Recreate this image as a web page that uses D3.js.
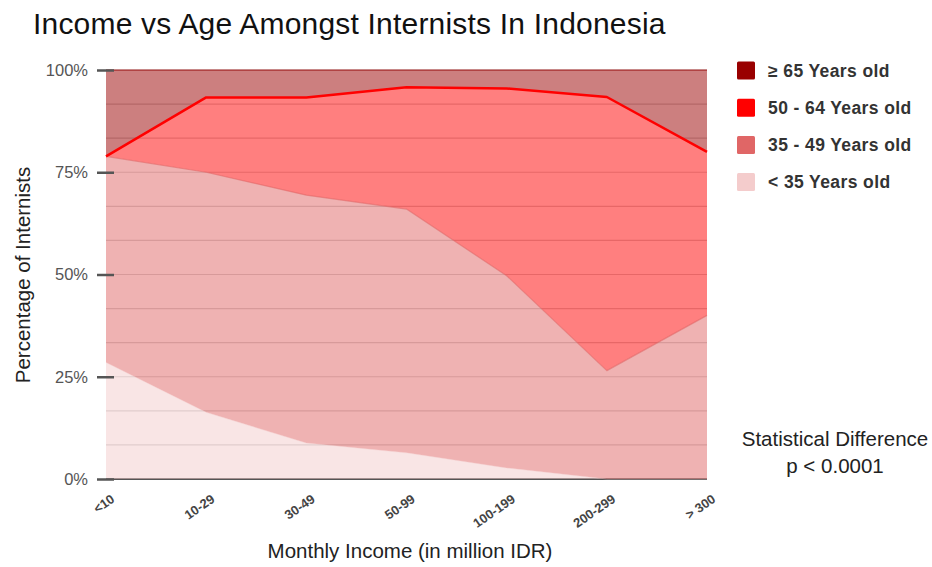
<!DOCTYPE html>
<html>
<head>
<meta charset="utf-8">
<script src="https://cdn.jsdelivr.net/npm/d3@7"></script>
<style>
  html, body { margin: 0; padding: 0; background: #fff; }
  svg { display: block; font-family: "Liberation Sans", Arial, sans-serif; }
</style>
</head>
<body>
<svg id="chart" width="932" height="567"></svg>
<script>
// Income brackets (million IDR per month)
const categories = ["<10", "10-29", "30-49", "50-99", "100-199", "200-299", "> 300"];

// Share of internists (%) in each age group per income bracket
const under35 = [28.5, 16.3, 8.8, 6.4, 2.7, 0.0, 0.0];
const age35to49 = [50.4, 58.7, 60.6, 59.6, 47.0, 26.5, 40.0];
const age50to64 = [0.0, 18.3, 23.9, 29.8, 45.8, 66.9, 40.0];
const age65plus = [21.1, 6.7, 6.7, 4.2, 4.5, 6.6, 20.0];

const seriesNames = ["< 35 Years old", "35 - 49 Years old", "50 - 64 Years old", "\u2265 65 Years old"];
const seriesColors = ["#f4cccc", "#e06666", "#ff0000", "#990000"];
const yTicks = [0, 25, 50, 75, 100];

const rows = categories.map((c, i) => ({
  cat: c,
  [seriesNames[0]]: under35[i],
  [seriesNames[1]]: age35to49[i],
  [seriesNames[2]]: age50to64[i],
  [seriesNames[3]]: age65plus[i]
}));

const svg = d3.select("#chart");
const plotLeft = 106, plotRight = 707, plotTop = 70, plotBottom = 479;

const x = d3.scalePoint().domain(categories).range([plotLeft, plotRight]);
const y = d3.scaleLinear().domain([0, 100]).range([plotBottom, plotTop]);
const color = d3.scaleOrdinal().domain(seriesNames).range(seriesColors);

const stacked = d3.stack().keys(seriesNames)(rows);

// Title
svg.append("text")
  .attr("x", 33).attr("y", 34)
  .attr("font-size", 30)
  .attr("letter-spacing", 0.2)
  .attr("fill", "#111")
  .text("Income vs Age Amongst Internists In Indonesia");

// Gridlines (three per quarter)
const grid = d3.range(0, 13).map(i => i * 25 / 3);
svg.append("g").selectAll("line").data(grid).join("line")
  .attr("x1", plotLeft).attr("x2", plotRight)
  .attr("y1", d => y(d)).attr("y2", d => y(d))
  .attr("stroke", "#cfcfcf").attr("stroke-width", 1.2);

// Baseline
svg.append("line")
  .attr("x1", plotLeft).attr("x2", plotRight)
  .attr("y1", plotBottom).attr("y2", plotBottom)
  .attr("stroke", "#555").attr("stroke-width", 2);

// Stacked areas
const area = d3.area()
  .x(d => x(d.data.cat))
  .y0(d => y(d[0]))
  .y1(d => y(d[1]));

svg.append("g").selectAll("path").data(stacked).join("path")
  .attr("d", area)
  .attr("fill", d => color(d.key))
  .attr("fill-opacity", 0.5);

// Series top edges
const topLine = d3.line().x(d => x(d.data.cat)).y(d => y(d[1]));
const lineStyle = {
  "< 35 Years old": { w: 1, o: 0.4 },
  "35 - 49 Years old": { w: 1.2, o: 0.6 },
  "50 - 64 Years old": { w: 2.5, o: 1 },
  "\u2265 65 Years old": { w: 1.5, o: 0.55 }
};
svg.append("g").selectAll("path").data(stacked).join("path")
  .attr("d", topLine)
  .attr("fill", "none")
  .attr("stroke", d => color(d.key))
  .attr("stroke-width", d => lineStyle[d.key].w)
  .attr("stroke-opacity", d => lineStyle[d.key].o)
  .attr("stroke-linejoin", "round");

// Y axis
const yAxis = svg.append("g")
  .attr("transform", `translate(${plotLeft + 8},0)`)
  .call(d3.axisLeft(y).tickValues(yTicks).tickFormat(d => d + "%").tickSize(17).tickPadding(9));
yAxis.select(".domain").remove();
yAxis.selectAll(".tick line").attr("stroke", "#555").attr("stroke-width", 2.5);
yAxis.selectAll(".tick text")
  .attr("font-family", "'Liberation Sans', Arial, sans-serif")
  .attr("font-size", 16.5).attr("fill", "#555");

// X axis
const xAxis = svg.append("g")
  .attr("transform", `translate(0,${plotBottom})`)
  .call(d3.axisBottom(x).tickSize(0).tickPadding(0));
xAxis.select(".domain").remove();
xAxis.selectAll(".tick text")
  .attr("font-family", "'Liberation Sans', Arial, sans-serif")
  .attr("font-size", 13).attr("font-weight", "bold").attr("fill", "#444")
  .attr("text-anchor", "end")
  .attr("y", 0).attr("dy", 0)
  .attr("transform", "translate(9,22) rotate(-35)");

// Axis titles
svg.append("text")
  .attr("transform", "translate(30,275) rotate(-90)")
  .attr("text-anchor", "middle")
  .attr("font-size", 20.5).attr("fill", "#222")
  .text("Percentage of Internists");

svg.append("text")
  .attr("x", 410).attr("y", 558)
  .attr("text-anchor", "middle")
  .attr("font-size", 20.5).attr("fill", "#222")
  .text("Monthly Income (in million IDR)");

// Legend (oldest group first)
const legendOrder = seriesNames.slice().reverse();
const legend = svg.append("g").selectAll("g").data(legendOrder).join("g")
  .attr("transform", (d, i) => `translate(737,${70.5 + i * 37.2})`);
legend.append("rect")
  .attr("x", 0).attr("y", -9).attr("width", 18).attr("height", 18)
  .attr("rx", 1.5)
  .attr("fill", d => color(d));
legend.append("text")
  .attr("x", 31).attr("y", 0).attr("dy", "0.35em")
  .attr("font-size", 17.5).attr("font-weight", "bold")
  .attr("letter-spacing", 0.4).attr("fill", "#333")
  .text(d => d);

// Significance note
svg.append("text")
  .attr("x", 835).attr("y", 446)
  .attr("text-anchor", "middle")
  .attr("font-size", 20.5).attr("fill", "#222")
  .text("Statistical Difference");
svg.append("text")
  .attr("x", 835).attr("y", 473)
  .attr("text-anchor", "middle")
  .attr("font-size", 20.5).attr("fill", "#222")
  .text("p < 0.0001");
</script>
</body>
</html>
